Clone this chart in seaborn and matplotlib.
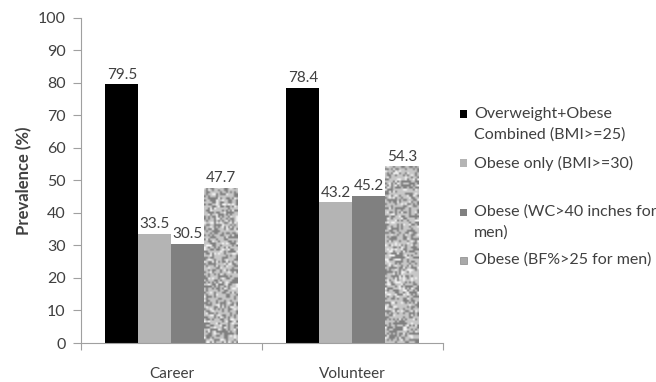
import numpy as np
import pandas as pd
import matplotlib
matplotlib.use("Agg")
import matplotlib.pyplot as plt
from matplotlib.patches import Rectangle
import seaborn as sns

# Data
groups = ["Career", "Volunteer"]
measures = [
    "Overweight+Obese\nCombined (BMI>=25)",
    "Obese only (BMI>=30)",
    "Obese (WC>40 inches for\nmen)",
    "Obese (BF%>25 for men)",
]
career = [79.5, 33.5, 30.5, 47.7]
volunteer = [78.4, 43.2, 45.2, 54.3]
y_ticks = [0, 10, 20, 30, 40, 50, 60, 70, 80, 90, 100]

colors = ["#000000", "#b4b4b4", "#808080", "#a9a9a9"]
text_color = "#404040"

rows = []
for g, vals in zip(groups, [career, volunteer]):
    for m, v in zip(measures, vals):
        rows.append({"group": g, "measure": m, "value": v})
df = pd.DataFrame(rows)

sns.set_theme(style="white")
plt.rcParams["font.family"] = ["Lato", "DejaVu Sans"]

fig = plt.figure(figsize=(6.56, 3.82), dpi=100)
ax = fig.add_axes([0.1235, 0.102, 0.5515, 0.852])

sns.barplot(data=df, x="group", y="value", hue="measure", order=groups,
            hue_order=measures, palette=colors, width=0.73, saturation=1,
            linewidth=0, legend=False, ax=ax)

# Value labels
for cont in ax.containers:
    ax.bar_label(cont, fmt="%.1f", padding=2, fontsize=11, color=text_color)

# Speckled texture for the body-fat series
rng = np.random.RandomState(7)
for bar in ax.containers[3]:
    bar.set_facecolor("none")
    x0, y0 = bar.get_x(), bar.get_y()
    w, h = bar.get_width(), bar.get_height()
    noise = rng.rand(int(h * 1.6), 17)
    tex = np.where(noise > 0.62, 0.5, np.where(noise < 0.12, 0.95, 0.78))
    im = ax.imshow(tex, cmap="gray", vmin=0, vmax=1, aspect="auto",
                   extent=(x0, x0 + w, y0, y0 + h), interpolation="bilinear",
                   zorder=bar.get_zorder())
    im.set_clip_path(bar)

ax.set_xlim(-0.5, 1.5)
ax.set_ylim(0, 100)
ax.set_yticks(y_ticks)
ax.tick_params(axis="y", which="major", direction="out", length=6, width=0.8,
               color="#a0a0a0", labelsize=11.5, labelcolor=text_color, pad=5, left=True)

# Category ticks between groups, labels at group centres
ax.set_xticks([-0.5, 0.5, 1.5])
ax.set_xticklabels([])
ax.tick_params(axis="x", which="major", direction="out", length=5, width=0.8,
               color="#a0a0a0", bottom=True)
ax.set_xticks([0, 1], minor=True)
ax.set_xticklabels(groups, minor=True)
ax.tick_params(axis="x", which="minor", length=0, labelsize=11,
               labelcolor=text_color, pad=17)

ax.set_xlabel("")
ax.set_ylabel("Prevalence (%)", fontsize=12, fontweight="bold", color=text_color,
              labelpad=4)

for side in ["top", "right"]:
    ax.spines[side].set_visible(False)
for side in ["left", "bottom"]:
    ax.spines[side].set_color("#a0a0a0")
    ax.spines[side].set_linewidth(0.8)

# Legend, laid out in figure pixels
W, H = 656, 382
legend_rows = [114, 163, 212, 260]
line_gap = 21
for m, c, ytop in zip(measures, colors, legend_rows):
    fig.patches.append(Rectangle((460 / W, 1 - (ytop + 3.5) / H), 7 / W, 7 / H,
                                 transform=fig.transFigure, facecolor=c,
                                 edgecolor="none" if c != "#a9a9a9" else "#888888",
                                 linewidth=0.5))
    for i, line in enumerate(m.split("\n")):
        fig.text(474 / W, 1 - (ytop + i * line_gap) / H, line, fontsize=11.5,
                 color=text_color, va="center", ha="left")

fig.savefig("out.png", dpi=100)
